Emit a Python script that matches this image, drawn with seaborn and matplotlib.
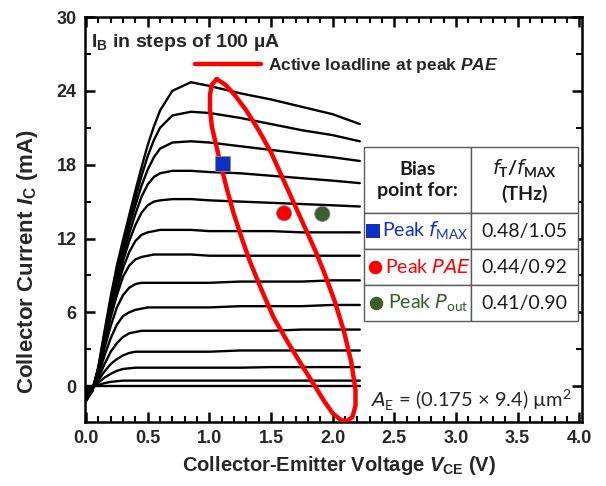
import pandas as pd
import seaborn as sns
import matplotlib.pyplot as plt
from matplotlib.ticker import MultipleLocator, FormatStrFormatter

sns.set_style("ticks")
plt.rcParams["font.family"] = ["Liberation Sans", "DejaVu Sans"]
plt.rcParams["mathtext.fontset"] = "custom"
plt.rcParams["mathtext.rm"] = "Liberation Sans:bold"
plt.rcParams["mathtext.it"] = "Liberation Sans:italic:bold"
plt.rcParams["mathtext.bf"] = "Liberation Sans:bold"

# ---- data ----
vce = [0.0, 0.05, 0.1, 0.15, 0.2, 0.25, 0.3, 0.35, 0.4, 0.45, 0.5, 0.55, 0.6,
       0.7, 0.85, 1.0, 1.25, 1.5, 1.75, 2.0, 2.22]

# collector current (mA) for each base current step
ic_ib1300 = [-1.2, -0.4, 1.6, 4.5, 7.3, 9.8, 11.9, 13.9, 15.9, 17.8, 19.6, 21.1, 22.4,
             24.0, 24.7, 24.4, 23.8, 23.3, 22.7, 22.1, 21.3]
ic_ib1200 = [-1.2, -0.4, 1.5, 4.3, 7.0, 9.4, 11.5, 13.4, 15.3, 17.1, 18.7, 20.0, 21.0,
             22.0, 22.3, 22.2, 21.8, 21.3, 20.8, 20.4, 19.9]
ic_ib1100 = [-1.1, -0.4, 1.5, 4.2, 6.8, 9.1, 11.1, 13.0, 14.7, 16.3, 17.6, 18.6, 19.3,
             19.8, 19.9, 19.8, 19.5, 19.2, 18.9, 18.6, 18.3]
ic_ib1000 = [-1.0, -0.4, 1.4, 4.0, 6.5, 8.7, 10.7, 12.4, 14.0, 15.4, 16.4, 17.0, 17.3,
             17.5, 17.5, 17.4, 17.3, 17.1, 16.9, 16.7, 16.5]
ic_ib900 = [-0.9, -0.3, 1.4, 3.9, 6.3, 8.4, 10.2, 11.8, 13.1, 14.1, 14.7, 15.0, 15.1,
            15.2, 15.2, 15.1, 15.0, 14.9, 14.8, 14.7, 14.6]
ic_ib800 = [-0.8, -0.3, 1.3, 3.7, 6.0, 7.9, 9.6, 10.9, 11.8, 12.3, 12.5, 12.6, 12.7,
            12.7, 12.7, 12.6, 12.6, 12.6, 12.5, 12.5, 12.5]
ic_ib700 = [-0.7, -0.3, 1.2, 3.5, 5.6, 7.4, 8.9, 9.8, 10.3, 10.5, 10.6, 10.7, 10.7,
            10.7, 10.7, 10.6, 10.6, 10.6, 10.6, 10.6, 10.6]
ic_ib600 = [-0.6, -0.2, 1.1, 3.1, 4.9, 6.4, 7.4, 8.0, 8.3, 8.4, 8.4, 8.4, 8.4,
            8.4, 8.4, 8.4, 8.5, 8.5, 8.5, 8.6, 8.6]
ic_ib500 = [-0.5, -0.2, 0.9, 2.5, 3.9, 5.0, 5.7, 6.0, 6.2, 6.3, 6.4, 6.4, 6.4,
            6.4, 6.4, 6.4, 6.5, 6.5, 6.5, 6.6, 6.6]
ic_ib400 = [-0.4, -0.1, 0.7, 1.8, 2.8, 3.5, 4.0, 4.3, 4.4, 4.5, 4.5, 4.5, 4.5,
            4.5, 4.5, 4.5, 4.5, 4.5, 4.6, 4.6, 4.6]
ic_ib300 = [-0.3, -0.1, 0.5, 1.2, 1.8, 2.2, 2.5, 2.7, 2.8, 2.8, 2.8, 2.8, 2.8,
            2.8, 2.8, 2.8, 2.9, 2.9, 2.9, 2.9, 2.9]
ic_ib200 = [-0.2, 0.0, 0.3, 0.7, 1.0, 1.25, 1.4, 1.45, 1.5, 1.5, 1.5, 1.5, 1.5,
            1.5, 1.5, 1.5, 1.5, 1.55, 1.55, 1.55, 1.55]
ic_ib100 = [-0.1, 0.0, 0.1, 0.25, 0.35, 0.4, 0.45, 0.45, 0.45, 0.45, 0.45, 0.45, 0.45,
            0.45, 0.45, 0.45, 0.45, 0.45, 0.45, 0.45, 0.45]
ic_ib0 = [0.0, 0.0, 0.0, 0.0, 0.0, 0.0, 0.0, 0.0, 0.0, 0.0, 0.0, 0.0, 0.0,
          0.0, 0.0, 0.0, 0.0, 0.0, 0.0, 0.0, 0.0]

# active loadline at peak PAE (closed loop)
loadline_v = [1.06, 1.13, 1.21, 1.30, 1.40, 1.50, 1.59, 1.68, 1.77, 1.86, 1.94, 2.02,
              2.09, 2.15, 2.185, 2.185, 2.16, 2.11, 2.06, 2.00, 1.93, 1.85, 1.75, 1.64,
              1.52, 1.42, 1.33, 1.26, 1.195, 1.14, 1.09, 1.05, 1.02, 1.005, 1.005,
              1.02, 1.06]
loadline_i = [24.95, 24.5, 23.6, 22.4, 20.8, 19.0, 17.0, 15.0, 13.0, 11.0, 9.0, 6.8,
              4.5, 2.0, -0.3, -1.6, -2.5, -2.9, -2.7, -2.2, -1.2, 0.1, 1.7, 3.5,
              5.6, 7.9, 10.1, 12.1, 14.1, 16.1, 18.1, 19.8, 21.1, 22.5, 23.7,
              24.5, 24.95]

# bias points
bias_names = ["fmax", "pae", "pout"]
bias_v = [1.105, 1.606, 1.916]
bias_i = [18.1, 14.05, 14.0]
bias_colors = {"fmax": "#1230c0", "pae": "#ff0000", "pout": "#3b5e2b"}
bias_markers = {"fmax": "s", "pae": "o", "pout": "o"}

table_labels = [r"Peak $\mathit{f}_\mathregular{MAX}$", r"Peak $\mathit{PAE}$",
                r"Peak $\mathit{P}_\mathregular{out}$"]
table_values = ["0.48/1.05", "0.44/0.92", "0.41/0.90"]

# ---- figure ----
fig = plt.figure(figsize=(6.06, 4.86), dpi=100)
ax = fig.add_axes([0.140, 0.132, 0.820, 0.833])

sweeps = {1300: ic_ib1300, 1200: ic_ib1200, 1100: ic_ib1100, 1000: ic_ib1000,
          900: ic_ib900, 800: ic_ib800, 700: ic_ib700, 600: ic_ib600, 500: ic_ib500,
          400: ic_ib400, 300: ic_ib300, 200: ic_ib200, 100: ic_ib100, 0: ic_ib0}
curves = pd.concat([pd.DataFrame({"vce": vce, "ic": ic, "ib": ib})
                    for ib, ic in sweeps.items()])
sns.lineplot(data=curves, x="vce", y="ic", units="ib", estimator=None,
             color="black", lw=1.7, ax=ax, legend=False)

sns.lineplot(x=loadline_v, y=loadline_i, sort=False, estimator=None, color="#ff0000",
             lw=3.2, ax=ax, label=r"Active loadline at peak $\mathit{PAE}$",
             solid_joinstyle="round", solid_capstyle="round", zorder=3)

bias_df = pd.DataFrame({"vce": bias_v, "ic": bias_i, "point": bias_names})
sns.scatterplot(data=bias_df, x="vce", y="ic", hue="point", style="point",
                palette=bias_colors, markers=bias_markers, s=120, edgecolor="#8a8a9a",
                linewidth=0.6, legend=False, ax=ax, zorder=5)

ax.set_xlim(-0.01, 4.02)
ax.set_ylim(-2.9, 30)
ax.xaxis.set_major_locator(MultipleLocator(0.5))
ax.xaxis.set_minor_locator(MultipleLocator(0.1))
ax.yaxis.set_major_locator(MultipleLocator(6))
ax.yaxis.set_minor_locator(MultipleLocator(3))
ax.xaxis.set_major_formatter(FormatStrFormatter("%.1f"))
ax.yaxis.set_major_formatter(FormatStrFormatter("%d"))
ax.tick_params(which="both", direction="in", top=True, right=True, color="black")
ax.tick_params(which="major", length=7, width=1.8, labelsize=13, pad=6)
ax.tick_params(which="minor", length=4, width=1.5)
plt.setp(ax.get_xticklabels() + ax.get_yticklabels(), fontweight="bold")
for sp in ax.spines.values():
    sp.set_linewidth(1.8)
    sp.set_color("black")

ax.set_xlabel(r"Collector-Emitter Voltage $\mathit{V}_\mathregular{CE}$ (V)",
              fontsize=14.5, fontweight="bold")
ax.set_ylabel(r"Collector Current $\mathit{I}_\mathregular{C}$ (mA)",
              fontsize=16, fontweight="bold")
ax.xaxis.set_label_coords(0.512, -0.080)
ax.yaxis.set_label_coords(-0.09, 0.395)

ax.legend(loc="center left", bbox_to_anchor=(0.221, 0.881), frameon=False,
          handlelength=3.85, handletextpad=0.35, borderpad=0, borderaxespad=0,
          prop={"weight": "bold", "size": 12.5})

ax.text(0.012, 0.927, r"$\mathregular{I_B}$ in steps of 100 µA", transform=ax.transAxes,
        ha="left", va="baseline", fontsize=14, fontweight="bold")

ax.text(0.980, 0.035, r"$\mathit{A}_\mathregular{E}$ = (0.175 × 9.4) µm$^\mathregular{2}$",
        transform=ax.transAxes, ha="right", va="baseline", fontsize=14.5,
        fontweight="normal", family="Lato", math_fontfamily="dejavusans")

# ---- bias table ----
tbl_left, tbl_bottom, tbl_width, tbl_height = 0.561, 0.249, 0.431, 0.430
head_frac = 0.38
row_frac = (1 - head_frac) / 3
cell_text = [["Bias\npoint for:",
              "$\\mathit{f}_\\mathregular{T}$/$\\mathit{f}_\\mathregular{MAX}$\n(THz)"]]
cell_text += [["", v] for v in table_values]
tbl = ax.table(cellText=cell_text, cellLoc="center",
               bbox=[tbl_left, tbl_bottom, tbl_width, tbl_height])
tbl.auto_set_font_size(False)
tbl.set_zorder(6)
for (r, c), cell in tbl.get_celld().items():
    cell.set_height(head_frac if r == 0 else row_frac)
    cell.set_edgecolor("#5a5a5a")
    cell.set_linewidth(1.0)
    cell.set_facecolor("white")
    t = cell.get_text()
    t.set_fontsize(14)
    t.set_family("Lato")
    t.set_color("#1a1a1a")
    t.set_math_fontfamily("dejavusans")
    t.set_linespacing(1.35)
    t.set_fontweight("bold" if r == 0 else "normal")

row_h = tbl_height * row_frac
for k, (label, name) in enumerate(zip(table_labels, bias_names)):
    yc = tbl_bottom + tbl_height * (1 - head_frac) - row_h * (k + 0.5)
    ax.scatter([tbl_left + 0.019 + 0.003 * k], [yc], transform=ax.transAxes,
               marker=bias_markers[name], s=95, color=bias_colors[name],
               zorder=8, clip_on=False, linewidths=0)
    ax.text(tbl_left + 0.038 + 0.006 * k, yc, label, transform=ax.transAxes,
            ha="left", va="center", fontsize=14, fontweight="normal", family="Lato",
            color=bias_colors[name], math_fontfamily="dejavusans", zorder=8)

fig.savefig("out.png", dpi=100)
